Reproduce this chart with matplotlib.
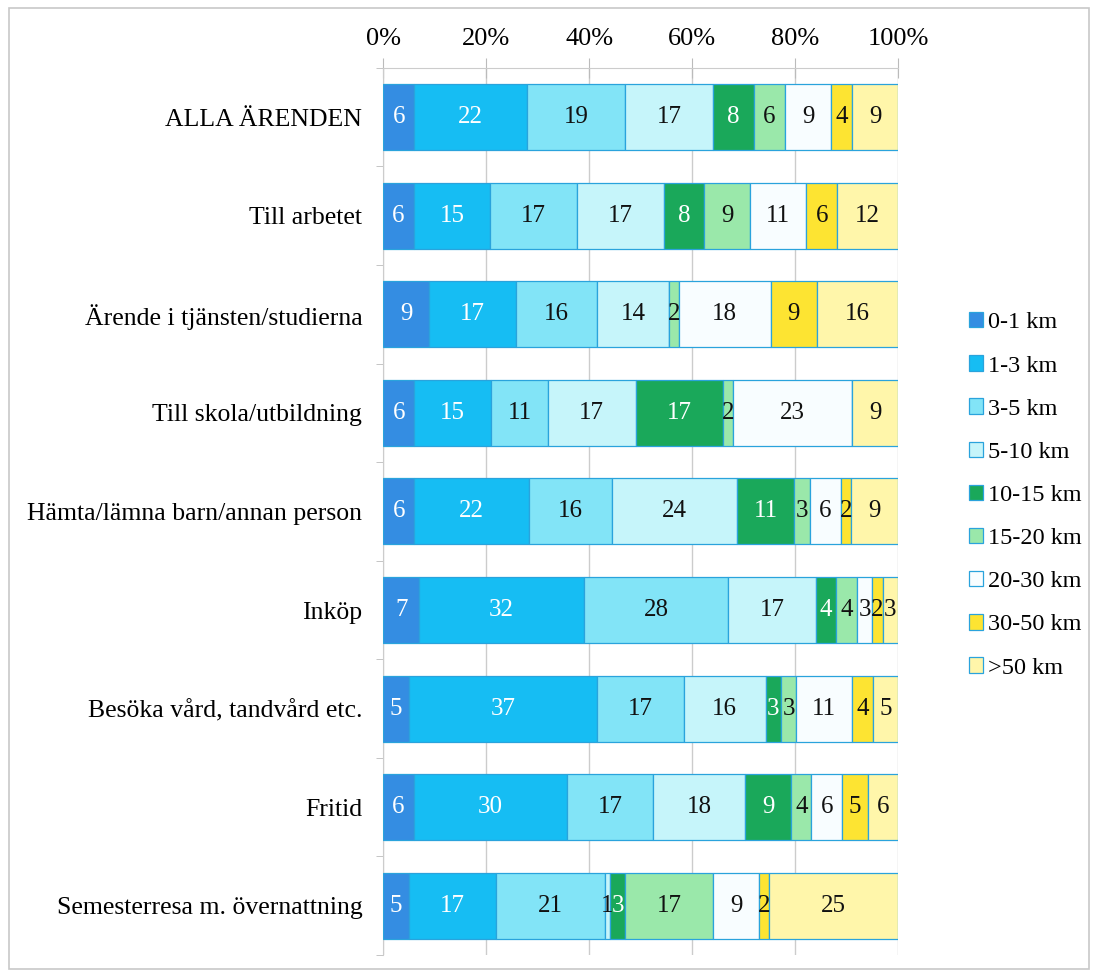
import numpy as np
import matplotlib.pyplot as plt
from matplotlib.patches import Rectangle

plt.rcParams['font.family'] = ['Liberation Serif', 'DejaVu Serif']

categories = ['ALLA ÄRENDEN', 'Till arbetet', 'Ärende i tjänsten/studierna',
              'Till skola/utbildning', 'Hämta/lämna barn/annan person', 'Inköp',
              'Besöka vård, tandvård etc.', 'Fritid', 'Semesterresa m. övernattning']
distances = ['0-1 km', '1-3 km', '3-5 km', '5-10 km', '10-15 km',
             '15-20 km', '20-30 km', '30-50 km', '>50 km']

# one list per row, values per distance class (percent, as labelled)
alla = [6, 22, 19, 17, 8, 6, 9, 4, 9]
arbetet = [6, 15, 17, 17, 8, 9, 11, 6, 12]
tjansten = [9, 17, 16, 14, 0, 2, 18, 9, 16]
skola = [6, 15, 11, 17, 17, 2, 23, 0, 9]
hamta = [6, 22, 16, 24, 11, 3, 6, 2, 9]
inkop = [7, 32, 28, 17, 4, 4, 3, 2, 3]
vard = [5, 37, 17, 16, 3, 3, 11, 4, 5]
fritid = [6, 30, 17, 18, 9, 4, 6, 5, 6]
semester = [5, 17, 21, 1, 3, 17, 9, 2, 25]

colors = ['#348de2', '#16bdf3', '#82e4f7', '#c6f5fa', '#1aa85a',
          '#9ae8aa', '#f8fdff', '#fde432', '#fff6aa']
white_text = [True, True, False, False, True, False, False, False, False]


def main():
    data = np.array([alla, arbetet, tjansten, skola, hamta, inkop, vard, fritid, semester], dtype=float)
    shares = data / data.sum(axis=1, keepdims=True) * 100

    fig = plt.figure(figsize=(10.98, 9.77), dpi=100)
    ax = fig.add_axes([0.349, 0.0225, 0.469, 0.908])

    # Outer frame of the picture
    fig.patches.append(Rectangle((0.008, 0.008), 0.984, 0.984, transform=fig.transFigure,
                                 fill=False, edgecolor='#c8c8c8', linewidth=1.2))

    y = np.arange(len(categories))
    left = np.zeros(len(categories))
    for j, name in enumerate(distances):
        ax.barh(y, shares[:, j], left=left, height=0.67, color=colors[j],
                edgecolor='#2aa3dc', linewidth=0.9, label=name, zorder=3)
        for i in range(len(categories)):
            if data[i, j] > 0:
                ax.text(left[i] + shares[i, j] / 2, y[i], '%d' % data[i, j],
                        ha='center', va='center', fontsize=18,
                        color='white' if white_text[j] else '#111111', zorder=4)
        left += shares[:, j]

    ax.set_xlim(0, 100)
    ax.set_ylim(len(categories) - 0.5, -0.5)
    ax.set_yticks(y)
    ax.set_yticklabels(categories, fontsize=18.5)
    ax.set_yticks(np.arange(-0.5, len(categories), 1), minor=True)
    ax.tick_params(axis='y', which='major', length=0, pad=15)
    ax.tick_params(axis='y', which='minor', length=5, color='#bbbbbb', direction='out')

    ax.xaxis.tick_top()
    ax.set_xticks(np.arange(0, 101, 20))
    ax.set_xticklabels(['%d%%' % v for v in range(0, 101, 20)], fontsize=19)
    ax.tick_params(axis='x', length=14, color='#bbbbbb', direction='inout', pad=6)
    ax.grid(axis='x', color='#cccccc', linewidth=1, zorder=0)

    for side in ['right', 'bottom']:
        ax.spines[side].set_visible(False)
    ax.spines['top'].set_color('#cccccc')
    ax.spines['left'].set_color('#cccccc')

    fig.legend(loc='center left', bbox_to_anchor=(0.871, 0.493), frameon=False,
               fontsize=17.5, handlelength=0.6, handleheight=0.6, handletextpad=0.2,
               labelspacing=0.9, borderpad=0)

    fig.savefig('out.png', dpi=100)


if __name__ == "__main__":
    main()
